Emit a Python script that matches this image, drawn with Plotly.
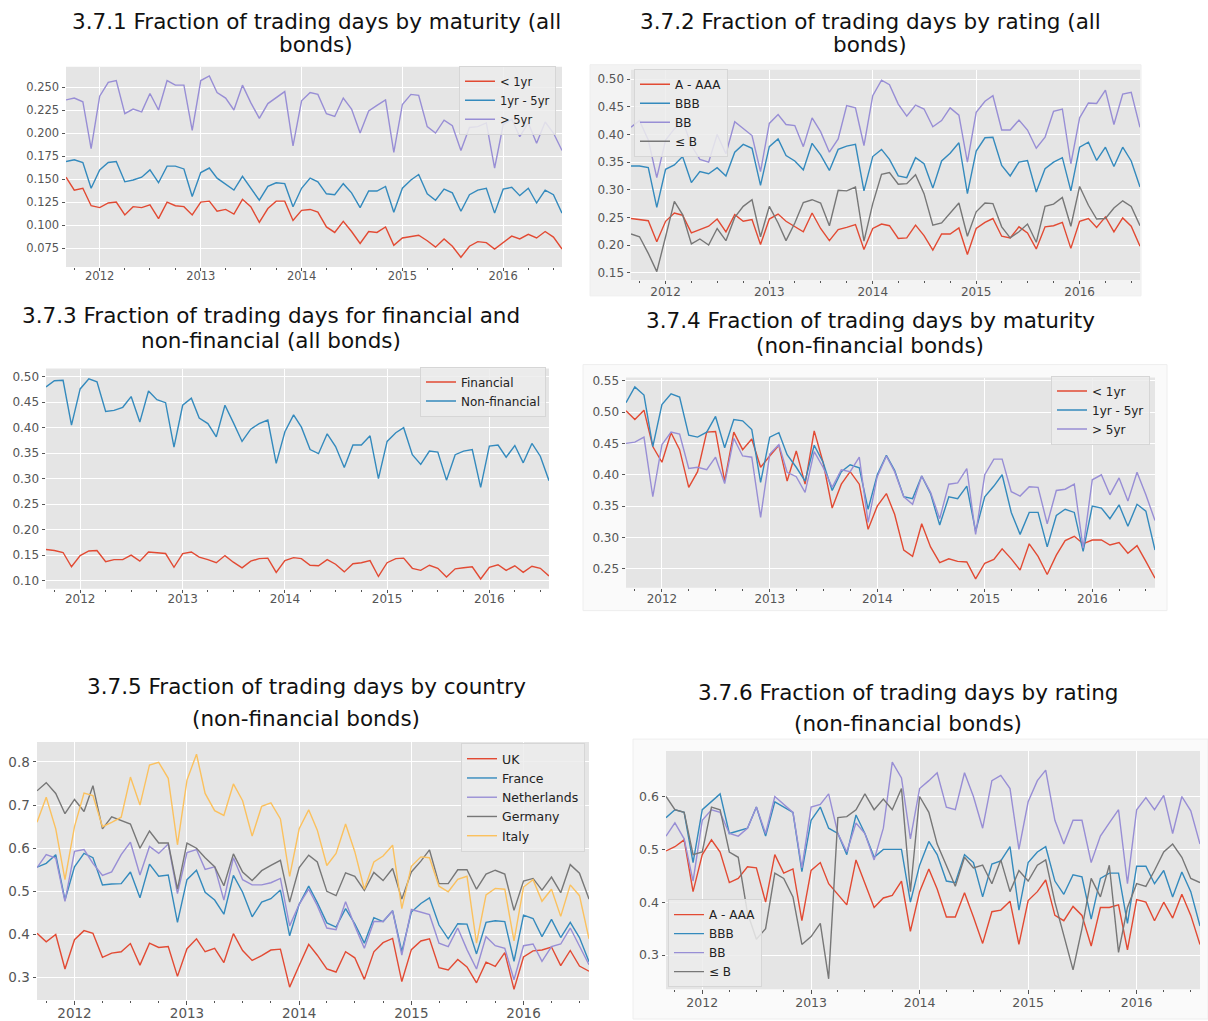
import pandas as pd
import plotly.graph_objects as go

W, H = 1208, 1021
FONT = "DejaVu Sans"
RED, BLUE, PURPLE, GRAY, YELLOW = "#E24A33", "#348ABD", "#988ED5", "#777777", "#FBC15E"

months = pd.date_range("2011-09-01", periods=60, freq="MS")
year_ticks = pd.to_datetime(["2012-01-01", "2013-01-01", "2014-01-01", "2015-01-01", "2016-01-01"])
year_labels = ["2012", "2013", "2014", "2015", "2016"]

# 3.7.1 all bonds, by maturity
all_lt1 = [0.152, 0.138, 0.140, 0.121, 0.119, 0.124, 0.125, 0.111, 0.120, 0.119, 0.122, 0.107,
           0.125, 0.121, 0.120, 0.111, 0.125, 0.126, 0.115, 0.117, 0.112, 0.128, 0.120, 0.103,
           0.118, 0.126, 0.126, 0.105, 0.116, 0.117, 0.114, 0.098, 0.092, 0.104, 0.093, 0.080,
           0.093, 0.092, 0.098, 0.078, 0.086, 0.088, 0.089, 0.083, 0.076, 0.085, 0.077, 0.065,
           0.077, 0.082, 0.081, 0.074, 0.081, 0.088, 0.085, 0.090, 0.086, 0.093, 0.087, 0.074]
all_1to5 = [0.169, 0.171, 0.168, 0.140, 0.160, 0.168, 0.169, 0.147, 0.149, 0.152, 0.160, 0.146,
            0.164, 0.164, 0.161, 0.131, 0.157, 0.162, 0.151, 0.144, 0.138, 0.153, 0.140, 0.127,
            0.142, 0.146, 0.145, 0.120, 0.140, 0.151, 0.147, 0.134, 0.133, 0.145, 0.135, 0.119,
            0.137, 0.137, 0.142, 0.114, 0.140, 0.149, 0.155, 0.134, 0.127, 0.139, 0.135, 0.115,
            0.133, 0.138, 0.140, 0.113, 0.139, 0.141, 0.132, 0.140, 0.124, 0.138, 0.133, 0.113]
all_gt5 = [0.236, 0.238, 0.234, 0.183, 0.240, 0.255, 0.257, 0.221, 0.226, 0.223, 0.243, 0.225,
           0.257, 0.252, 0.252, 0.203, 0.257, 0.262, 0.244, 0.238, 0.225, 0.252, 0.233, 0.216,
           0.232, 0.238, 0.245, 0.186, 0.235, 0.244, 0.242, 0.221, 0.218, 0.238, 0.226, 0.200,
           0.224, 0.230, 0.236, 0.179, 0.231, 0.242, 0.241, 0.207, 0.200, 0.214, 0.208, 0.181,
           0.206, 0.207, 0.211, 0.162, 0.209, 0.215, 0.196, 0.211, 0.189, 0.212, 0.200, 0.181]

# 3.7.2 all bonds, by rating
all_a_aaa = [0.248, 0.246, 0.244, 0.206, 0.243, 0.258, 0.254, 0.222, 0.228, 0.234, 0.247, 0.224,
             0.255, 0.243, 0.246, 0.201, 0.247, 0.256, 0.243, 0.233, 0.224, 0.258, 0.230, 0.208,
             0.228, 0.232, 0.237, 0.192, 0.230, 0.238, 0.235, 0.212, 0.213, 0.236, 0.217, 0.191,
             0.220, 0.220, 0.231, 0.183, 0.230, 0.241, 0.248, 0.216, 0.213, 0.233, 0.222, 0.193,
             0.233, 0.235, 0.241, 0.194, 0.243, 0.248, 0.232, 0.251, 0.224, 0.249, 0.234, 0.198]
all_bbb = [0.343, 0.343, 0.340, 0.268, 0.337, 0.345, 0.360, 0.313, 0.333, 0.329, 0.340, 0.325,
           0.368, 0.382, 0.375, 0.308, 0.378, 0.392, 0.362, 0.352, 0.336, 0.384, 0.363, 0.335,
           0.373, 0.379, 0.382, 0.298, 0.360, 0.373, 0.355, 0.325, 0.322, 0.358, 0.347, 0.303,
           0.352, 0.366, 0.385, 0.293, 0.370, 0.394, 0.395, 0.344, 0.325, 0.350, 0.353, 0.296,
           0.338, 0.350, 0.358, 0.298, 0.377, 0.386, 0.353, 0.377, 0.342, 0.377, 0.352, 0.305]
all_bb = [0.413, 0.425, 0.390, 0.322, 0.390, 0.410, 0.425, 0.380, 0.355, 0.350, 0.400, 0.365,
          0.423, 0.410, 0.398, 0.333, 0.420, 0.436, 0.418, 0.416, 0.378, 0.430, 0.405, 0.368,
          0.392, 0.452, 0.448, 0.380, 0.470, 0.498, 0.490, 0.455, 0.433, 0.453, 0.446, 0.414,
          0.425, 0.448, 0.435, 0.350, 0.440, 0.460, 0.470, 0.408, 0.408, 0.426, 0.408, 0.375,
          0.395, 0.442, 0.446, 0.347, 0.430, 0.457, 0.456, 0.480, 0.418, 0.473, 0.476, 0.413]
all_le_b = [0.220, 0.215, 0.185, 0.152, 0.215, 0.279, 0.255, 0.202, 0.211, 0.200, 0.230, 0.208,
            0.250, 0.270, 0.282, 0.215, 0.270, 0.240, 0.208, 0.240, 0.277, 0.282, 0.276, 0.235,
            0.299, 0.298, 0.305, 0.207, 0.275, 0.328, 0.331, 0.310, 0.311, 0.327, 0.293, 0.236,
            0.240, 0.258, 0.276, 0.216, 0.260, 0.276, 0.275, 0.233, 0.213, 0.224, 0.238, 0.205,
            0.270, 0.274, 0.286, 0.234, 0.306, 0.272, 0.247, 0.248, 0.267, 0.280, 0.270, 0.235]

# 3.7.3 financial vs non-financial
financial = [0.161, 0.159, 0.155, 0.127, 0.149, 0.158, 0.159, 0.137, 0.141, 0.141, 0.150, 0.138,
             0.156, 0.155, 0.153, 0.126, 0.153, 0.156, 0.146, 0.141, 0.135, 0.149, 0.136, 0.125,
             0.138, 0.143, 0.144, 0.116, 0.139, 0.145, 0.143, 0.130, 0.129, 0.141, 0.132, 0.117,
             0.133, 0.135, 0.139, 0.108, 0.135, 0.143, 0.144, 0.124, 0.120, 0.130, 0.124, 0.107,
             0.123, 0.125, 0.127, 0.103, 0.126, 0.131, 0.120, 0.129, 0.116, 0.128, 0.124, 0.109]
non_financial = [0.480, 0.492, 0.493, 0.405, 0.476, 0.496, 0.490, 0.432, 0.434, 0.440, 0.461, 0.411,
                 0.472, 0.455, 0.449, 0.362, 0.444, 0.458, 0.419, 0.408, 0.382, 0.444, 0.410, 0.373,
                 0.397, 0.408, 0.415, 0.330, 0.392, 0.425, 0.401, 0.357, 0.349, 0.388, 0.363, 0.322,
                 0.366, 0.366, 0.384, 0.300, 0.373, 0.390, 0.400, 0.347, 0.328, 0.354, 0.352, 0.297,
                 0.347, 0.354, 0.357, 0.283, 0.364, 0.366, 0.342, 0.365, 0.331, 0.369, 0.344, 0.296]

# 3.7.4 non-financial bonds, by maturity
nf_lt1 = [0.502, 0.488, 0.503, 0.445, 0.420, 0.467, 0.440, 0.380, 0.405, 0.468, 0.469, 0.390,
          0.468, 0.440, 0.457, 0.412, 0.430, 0.447, 0.390, 0.438, 0.385, 0.470, 0.420, 0.347,
          0.385, 0.405, 0.385, 0.313, 0.350, 0.370, 0.337, 0.280, 0.270, 0.322, 0.285, 0.260,
          0.266, 0.262, 0.261, 0.234, 0.259, 0.265, 0.282, 0.266, 0.248, 0.290, 0.270, 0.241,
          0.272, 0.295, 0.302, 0.290, 0.296, 0.296, 0.288, 0.292, 0.275, 0.287, 0.262, 0.235]
nf_1to5 = [0.515, 0.540, 0.527, 0.445, 0.512, 0.529, 0.524, 0.463, 0.460, 0.468, 0.493, 0.443,
           0.488, 0.486, 0.472, 0.388, 0.460, 0.467, 0.432, 0.412, 0.390, 0.447, 0.420, 0.375,
           0.405, 0.416, 0.411, 0.345, 0.400, 0.431, 0.407, 0.365, 0.362, 0.398, 0.370, 0.320,
           0.365, 0.362, 0.382, 0.310, 0.365, 0.382, 0.400, 0.340, 0.305, 0.340, 0.340, 0.285,
           0.335, 0.345, 0.340, 0.278, 0.350, 0.347, 0.330, 0.352, 0.318, 0.353, 0.342, 0.280]
nf_gt5 = [0.450, 0.452, 0.460, 0.365, 0.448, 0.468, 0.465, 0.410, 0.412, 0.408, 0.428, 0.386,
          0.458, 0.430, 0.428, 0.332, 0.433, 0.448, 0.404, 0.397, 0.372, 0.437, 0.412, 0.380,
          0.408, 0.405, 0.428, 0.324, 0.397, 0.430, 0.405, 0.365, 0.353, 0.398, 0.372, 0.330,
          0.385, 0.387, 0.410, 0.305, 0.400, 0.425, 0.425, 0.373, 0.366, 0.381, 0.380, 0.322,
          0.375, 0.377, 0.385, 0.283, 0.392, 0.400, 0.368, 0.395, 0.358, 0.404, 0.368, 0.327]

# 3.7.5 non-financial bonds, by country
uk = [0.403, 0.383, 0.400, 0.320, 0.388, 0.409, 0.403, 0.347, 0.357, 0.360, 0.379, 0.329,
      0.380, 0.370, 0.372, 0.303, 0.367, 0.390, 0.360, 0.368, 0.335, 0.402, 0.363, 0.340,
      0.351, 0.364, 0.366, 0.278, 0.328, 0.377, 0.352, 0.320, 0.313, 0.360, 0.346, 0.296,
      0.360, 0.381, 0.391, 0.291, 0.365, 0.385, 0.390, 0.323, 0.318, 0.342, 0.325, 0.288,
      0.336, 0.326, 0.358, 0.273, 0.348, 0.362, 0.364, 0.371, 0.328, 0.363, 0.327, 0.315]
france = [0.556, 0.565, 0.585, 0.480, 0.557, 0.588, 0.578, 0.515, 0.517, 0.518, 0.545, 0.485,
          0.563, 0.535, 0.538, 0.428, 0.527, 0.549, 0.498, 0.480, 0.447, 0.537, 0.498, 0.441,
          0.475, 0.483, 0.503, 0.397, 0.470, 0.512, 0.474, 0.427, 0.417, 0.460, 0.425, 0.380,
          0.439, 0.430, 0.455, 0.360, 0.452, 0.472, 0.485, 0.422, 0.390, 0.425, 0.424, 0.355,
          0.428, 0.432, 0.430, 0.338, 0.445, 0.437, 0.395, 0.435, 0.393, 0.428, 0.393, 0.337]
netherlands = [0.555, 0.585, 0.577, 0.477, 0.593, 0.597, 0.565, 0.537, 0.545, 0.585, 0.614, 0.538,
               0.604, 0.588, 0.610, 0.495, 0.590, 0.597, 0.551, 0.557, 0.480, 0.578, 0.527, 0.515,
               0.515, 0.520, 0.530, 0.420, 0.470, 0.505, 0.467, 0.415, 0.411, 0.476, 0.420, 0.368,
               0.430, 0.430, 0.455, 0.352, 0.458, 0.452, 0.446, 0.380, 0.372, 0.415, 0.365, 0.320,
               0.395, 0.374, 0.368, 0.295, 0.374, 0.378, 0.338, 0.372, 0.378, 0.415, 0.375, 0.330]
germany = [0.733, 0.752, 0.727, 0.680, 0.713, 0.685, 0.745, 0.645, 0.673, 0.665, 0.656, 0.600,
           0.640, 0.612, 0.612, 0.505, 0.612, 0.600, 0.578, 0.557, 0.513, 0.587, 0.545, 0.525,
           0.548, 0.560, 0.572, 0.475, 0.555, 0.584, 0.568, 0.500, 0.490, 0.543, 0.535, 0.502,
           0.544, 0.525, 0.553, 0.482, 0.545, 0.570, 0.596, 0.518, 0.518, 0.550, 0.550, 0.505,
           0.540, 0.549, 0.540, 0.456, 0.524, 0.530, 0.503, 0.533, 0.497, 0.562, 0.542, 0.482]
italy = [0.660, 0.718, 0.645, 0.527, 0.650, 0.728, 0.722, 0.650, 0.660, 0.672, 0.765, 0.700,
         0.793, 0.799, 0.762, 0.608, 0.758, 0.818, 0.727, 0.687, 0.676, 0.749, 0.710, 0.628,
         0.697, 0.705, 0.668, 0.535, 0.645, 0.689, 0.642, 0.560, 0.588, 0.656, 0.592, 0.505,
         0.568, 0.582, 0.607, 0.460, 0.558, 0.580, 0.578, 0.512, 0.499, 0.528, 0.535, 0.380,
         0.492, 0.507, 0.505, 0.385, 0.510, 0.527, 0.477, 0.505, 0.442, 0.515, 0.490, 0.390]

# 3.7.6 non-financial bonds, by rating
nf_a_aaa = [0.497, 0.505, 0.518, 0.420, 0.490, 0.518, 0.495, 0.437, 0.445, 0.467, 0.465, 0.400,
            0.490, 0.455, 0.463, 0.365, 0.460, 0.475, 0.435, 0.415, 0.395, 0.480, 0.435, 0.390,
            0.408, 0.413, 0.440, 0.345, 0.420, 0.463, 0.425, 0.372, 0.372, 0.418, 0.372, 0.322,
            0.382, 0.385, 0.402, 0.320, 0.403, 0.420, 0.442, 0.375, 0.365, 0.392, 0.375, 0.317,
            0.390, 0.390, 0.395, 0.310, 0.405, 0.400, 0.365, 0.400, 0.370, 0.415, 0.375, 0.320]
nf_bbb = [0.560, 0.575, 0.570, 0.475, 0.575, 0.590, 0.605, 0.530, 0.535, 0.540, 0.580, 0.525,
          0.590, 0.580, 0.570, 0.458, 0.555, 0.580, 0.540, 0.530, 0.490, 0.565, 0.530, 0.485,
          0.500, 0.500, 0.500, 0.400, 0.470, 0.515, 0.490, 0.440, 0.437, 0.490, 0.475, 0.410,
          0.472, 0.478, 0.505, 0.385, 0.475, 0.495, 0.505, 0.440, 0.415, 0.452, 0.448, 0.368,
          0.445, 0.455, 0.455, 0.360, 0.468, 0.468, 0.435, 0.460, 0.410, 0.457, 0.420, 0.355]
nf_bb = [0.525, 0.550, 0.520, 0.440, 0.555, 0.575, 0.570, 0.530, 0.525, 0.540, 0.580, 0.530,
         0.600, 0.585, 0.570, 0.465, 0.580, 0.585, 0.605, 0.530, 0.495, 0.550, 0.530, 0.480,
         0.540, 0.665, 0.635, 0.520, 0.615, 0.630, 0.645, 0.580, 0.575, 0.645, 0.600, 0.540,
         0.630, 0.640, 0.615, 0.500, 0.590, 0.630, 0.650, 0.555, 0.510, 0.555, 0.555, 0.475,
         0.525, 0.550, 0.575, 0.435, 0.575, 0.598, 0.575, 0.602, 0.530, 0.600, 0.573, 0.510]
nf_le_b = [0.600, 0.575, 0.570, 0.490, 0.495, 0.580, 0.575, 0.495, 0.485, 0.380, 0.330, 0.350,
           0.455, 0.445, 0.410, 0.320, 0.335, 0.360, 0.255, 0.560, 0.562, 0.575, 0.605, 0.575,
           0.595, 0.575, 0.615, 0.420, 0.600, 0.570, 0.510, 0.470, 0.430, 0.485, 0.465, 0.470,
           0.435, 0.480, 0.420, 0.460, 0.440, 0.470, 0.480, 0.400, 0.335, 0.272, 0.350, 0.445,
           0.410, 0.470, 0.305, 0.390, 0.435, 0.430, 0.460, 0.495, 0.510, 0.485, 0.445, 0.437]


def px_x(v):
    return v / W


def px_y(v):
    return 1 - v / H


fig = go.Figure()
shapes = []
annotations = []

# plot box in pixels (left, right, top, bottom), y range and ticks, legend and title placement
panels = [
    dict(box=(66, 562, 63, 264), yr=(0.0545, 0.272),
         yt=[0.075, 0.100, 0.125, 0.150, 0.175, 0.200, 0.225, 0.250], fmt=".3f", fs=11.5, so=-5,
         series=[("< 1yr", all_lt1, RED), ("1yr - 5yr", all_1to5, BLUE), ("> 5yr", all_gt5, PURPLE)],
         leg=dict(x=556, y=62, xanchor="right", yanchor="top", size=11.5),
         title=["3.7.1 Fraction of trading days by maturity (all", "bonds)"], tpos=(316, 18, 41)),
    dict(box=(631, 1140, 66, 277), yr=(0.137, 0.517),
         yt=[0.15, 0.20, 0.25, 0.30, 0.35, 0.40, 0.45, 0.50], fmt=".2f", fs=12, so=-3,
         series=[("A - AAA", all_a_aaa, RED), ("BBB", all_bbb, BLUE), ("BB", all_bb, PURPLE),
                 ("\u2264 B", all_le_b, GRAY)],
         leg=dict(x=634, y=65, xanchor="left", yanchor="top", size=12),
         title=["3.7.2 Fraction of trading days by rating (all", "bonds)"], tpos=(870, 18, 41)),
    dict(box=(46, 549, 366, 587), yr=(0.084, 0.516),
         yt=[0.10, 0.15, 0.20, 0.25, 0.30, 0.35, 0.40, 0.45, 0.50], fmt=".2f", fs=12, so=-5,
         series=[("Financial", financial, RED), ("Non-financial", non_financial, BLUE)],
         leg=dict(x=546, y=364, xanchor="right", yanchor="top", size=12),
         title=["3.7.3 Fraction of trading days for financial and", "non-financial (all bonds)"],
         tpos=(271, 313, 338)),
    dict(box=(626, 1155, 375, 586), yr=(0.22, 0.555),
         yt=[0.25, 0.30, 0.35, 0.40, 0.45, 0.50, 0.55], fmt=".2f", fs=12, so=-4,
         series=[("< 1yr", nf_lt1, RED), ("1yr - 5yr", nf_1to5, BLUE), ("> 5yr", nf_gt5, PURPLE)],
         leg=dict(x=1150, y=373, xanchor="right", yanchor="top", size=12),
         title=["3.7.4 Fraction of trading days by maturity", "(non-financial bonds)"],
         tpos=(870, 318, 343)),
    dict(box=(37, 589, 741, 1000), yr=(0.248, 0.846),
         yt=[0.3, 0.4, 0.5, 0.6, 0.7, 0.8], fmt=".1f", fs=13.5, so=-3,
         series=[("UK", uk, RED), ("France", france, BLUE), ("Netherlands", netherlands, PURPLE),
                 ("Germany", germany, GRAY), ("Italy", italy, YELLOW)],
         leg=dict(x=585, y=742, xanchor="right", yanchor="top", size=12.5),
         title=["3.7.5 Fraction of trading days by country", "(non-financial bonds)"],
         tpos=(306, 685, 717)),
    dict(box=(666, 1200, 750, 989), yr=(0.2355, 0.686),
         yt=[0.3, 0.4, 0.5, 0.6], fmt=".1f", fs=12.5, so=-2,
         series=[("A - AAA", nf_a_aaa, RED), ("BBB", nf_bbb, BLUE), ("BB", nf_bb, PURPLE),
                 ("\u2264 B", nf_le_b, GRAY)],
         leg=dict(x=668, y=987, xanchor="left", yanchor="bottom", size=12),
         title=["3.7.6 Fraction of trading days by rating", "(non-financial bonds)"],
         tpos=(908, 691, 722)),
]

# light figure backgrounds behind the right-hand panels
for x0, x1, y0, y1, col in [(590, 1141, 61, 293, "#f3f3f3"),
                            (583, 1167, 362, 609, "#fafafa"),
                            (633, 1208, 738, 1019, "#fafafa")]:
    shapes.append(dict(type="rect", xref="paper", yref="paper", layer="below",
                       x0=px_x(x0), x1=px_x(x1), y0=px_y(y1), y1=px_y(y0),
                       fillcolor=col, line=dict(color="#eeeeee", width=1)))

for k, p in enumerate(panels, start=1):
    x0, x1, y0, y1 = p["box"]
    xa = "xaxis" if k == 1 else f"xaxis{k}"
    ya = "yaxis" if k == 1 else f"yaxis{k}"
    xref = "x" if k == 1 else f"x{k}"
    yref = "y" if k == 1 else f"y{k}"
    legname = "legend" if k == 1 else f"legend{k}"

    # axes face
    shapes.append(dict(type="rect", xref="paper", yref="paper", layer="below",
                       x0=px_x(x0), x1=px_x(x1), y0=px_y(y1), y1=px_y(y0),
                       fillcolor="#E5E5E5", line=dict(width=0)))

    fig.update_layout(**{
        xa: dict(domain=[px_x(x0), px_x(x1)], anchor=yref, type="date",
                 range=[months[0], months[-1]],
                 tickvals=year_ticks, ticktext=year_labels,
                 ticks="outside", ticklen=3.5, tickcolor="#555555",
                 ticklabelstandoff=p["so"],
                 tickfont=dict(family=FONT, size=p["fs"], color="#555555"),
                 showgrid=True, gridcolor="white", gridwidth=1, zeroline=False,
                 showline=False,
                 minor=dict(dtick="M3", tick0="2012-01-01", ticks="outside", ticklen=2,
                            tickcolor="#555555", showgrid=False)),
        ya: dict(domain=[px_y(y1), px_y(y0)], anchor=xref, range=list(p["yr"]),
                 tickvals=p["yt"], tickformat=p["fmt"],
                 ticks="outside", ticklen=3.5, tickcolor="#555555",
                 tickfont=dict(family=FONT, size=p["fs"], color="#555555"),
                 showgrid=True, gridcolor="white", gridwidth=1, zeroline=False,
                 showline=False),
    })

    for name, vals, col in p["series"]:
        fig.add_trace(go.Scatter(x=months, y=vals, name=name, mode="lines",
                                 line=dict(color=col, width=1.4),
                                 xaxis=xref, yaxis=yref, legend=legname,
                                 hoverinfo="skip"))

    lg = p["leg"]
    fig.update_layout(**{legname: dict(
        x=px_x(lg["x"]), y=px_y(lg["y"]), xanchor=lg["xanchor"], yanchor=lg["yanchor"],
        bgcolor="rgba(236,236,236,0.85)", bordercolor="#d6d6d6", borderwidth=1,
        font=dict(family=FONT, size=lg["size"], color="#222222"),
        tracegroupgap=0, itemwidth=30)})

    cx, ty1, ty2 = p["tpos"]
    for line, ty in zip(p["title"], (ty1, ty2)):
        annotations.append(dict(text=line, xref="paper", yref="paper",
                                x=px_x(cx), y=px_y(ty), xanchor="center", yanchor="middle",
                                showarrow=False,
                                font=dict(family=FONT, size=21.5, color="#111111")))

fig.update_layout(width=W, height=H, margin=dict(l=0, r=0, t=0, b=0),
                  paper_bgcolor="white", plot_bgcolor="rgba(0,0,0,0)",
                  shapes=shapes, annotations=annotations, showlegend=True)

fig.write_html("out.html")
